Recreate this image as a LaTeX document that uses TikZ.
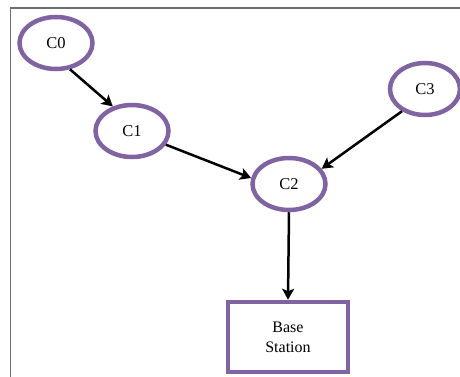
\documentclass[tikz,border=0pt]{standalone}
\usepackage{fontspec}
\setmainfont{Liberation Serif}
\usetikzlibrary{arrows.meta,shapes.geometric}
\definecolor{nodepurple}{HTML}{8064A2}
\definecolor{framegray}{HTML}{6E6E6E}
\begin{document}
\begin{tikzpicture}[x=1pt,y=-1pt,
  cluster/.style={ellipse,draw=nodepurple,line width=4.5pt,inner sep=0pt,
    minimum width=73pt,minimum height=52pt,font=\fontsize{16.5}{19}\selectfont},
  station/.style={rectangle,draw=nodepurple,line width=4.5pt,inner sep=0pt,
    minimum width=120pt,minimum height=70pt,align=center,
    font=\fontsize{16}{20}\selectfont},
  link/.style={-{Stealth[length=11pt,width=12pt,inset=2.5pt]},line width=2.5pt,black}]
\useasboundingbox (0,0) rectangle (460,377);
% open frame: top and left edges only
\draw[framegray,line width=1.5pt] (460,8) -- (10.5,8) -- (10.5,377);
% cluster heads and sink
\node[cluster] (c0) at (56,43) {C0};
\node[cluster] (c1) at (132,131) {C1};
\node[cluster] (c2) at (289,184) {C2};
\node[cluster,minimum width=70pt] (c3) at (425,89) {C3};
\node[station] (bs) at (288,337) {Base\\Station};
% data forwarding
\draw[link] (c0.-62) -- (c1.128);
\draw[link] (c1.-22) -- (c2.171);
\draw[link] (c3.-136) -- (c2.25);
\draw[link] (c2.south) -- (bs.north);
\end{tikzpicture}
\end{document}
